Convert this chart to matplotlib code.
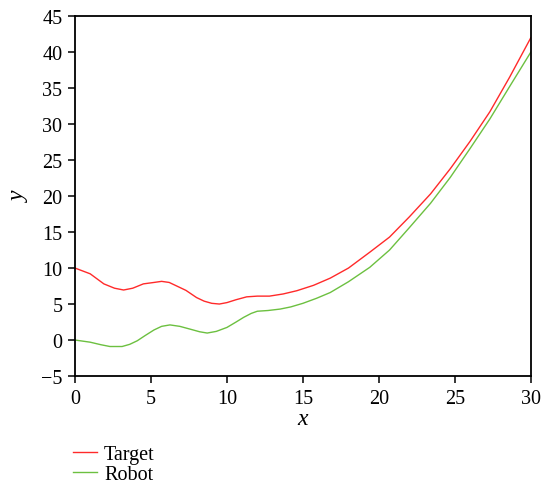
import matplotlib
matplotlib.use("Agg")
from matplotlib import pyplot as plt

# values
target_x = [0, 1.0, 1.9, 2.6, 3.2, 3.8, 4.5, 5.2, 5.7, 6.2, 6.7, 7.3, 8.0, 8.5, 9.0, 9.5, 10.0,
            10.6, 11.3, 12.0, 12.8, 13.7, 14.6, 15.7, 16.8, 18.0, 19.4, 20.7, 22.0, 23.4,
            24.7, 26.0, 27.3, 28.6, 30.0]
target_y = [10.0, 9.2, 7.8, 7.2, 6.95, 7.2, 7.8, 8.0, 8.15, 8.0, 7.5, 6.9, 5.9, 5.4, 5.1, 5.0, 5.2,
            5.6, 6.0, 6.1, 6.1, 6.4, 6.85, 7.6, 8.6, 10.0, 12.2, 14.3, 17.1, 20.3,
            23.8, 27.6, 31.7, 36.5, 42.0]

robot_x = [0, 1.0, 1.7, 2.3, 3.1, 3.6, 4.1, 4.6, 5.2, 5.7, 6.25, 6.9, 7.6, 8.2, 8.7, 9.3, 10.0,
           10.6, 11.1, 11.6, 12.0, 12.7, 13.5, 14.2, 15.0, 15.9, 16.8, 18.0, 19.4, 20.7,
           22.0, 23.4, 24.7, 26.0, 27.3, 28.6, 30.0]
robot_y = [0.0, -0.3, -0.65, -0.9, -0.9, -0.6, -0.1, 0.6, 1.4, 1.9, 2.1, 1.9, 1.5, 1.15, 0.97, 1.2, 1.75,
           2.5, 3.15, 3.7, 4.0, 4.1, 4.3, 4.6, 5.1, 5.8, 6.6, 8.1, 10.1, 12.5,
           15.6, 19.0, 22.6, 26.6, 30.7, 35.2, 40.0]

x_ticks = [0, 5, 10, 15, 20, 25, 30]
y_ticks = [-5, 0, 5, 10, 15, 20, 25, 30, 35, 40, 45]

plt.rcParams['font.family'] = ['Liberation Serif', 'DejaVu Serif']
plt.rcParams['font.size'] = 14.5

fig = plt.figure(figsize=(5.45, 4.89), dpi=100)
ax = fig.add_axes([0.1376, 0.229, 0.8364, 0.736])

ax.plot(target_x, target_y, color='#ff2a2a', lw=1.0, label='Target')
ax.plot(robot_x, robot_y, color='#6cc040', lw=1.0, label='Robot')

ax.set_xlim(0, 30)
ax.set_ylim(-5, 45)
ax.set_xticks(x_ticks)
ax.set_yticks(y_ticks)
ax.set_yticklabels(['\u22125'] + [str(t) for t in y_ticks[1:]])
ax.tick_params(direction='out', length=5, width=1.1, colors='black', pad=4)
for s in ax.spines.values():
    s.set_linewidth(1.3)
ax.set_xlabel('x', style='italic', fontsize=17, labelpad=0)
ax.set_ylabel('y', style='italic', fontsize=17, labelpad=8)

fig.legend(loc='upper left', bbox_to_anchor=(0.115, 0.108), frameon=False,
           handlelength=1.2, handletextpad=0.35, labelspacing=0.05, borderpad=0)

fig.savefig('out.png', dpi=100)
